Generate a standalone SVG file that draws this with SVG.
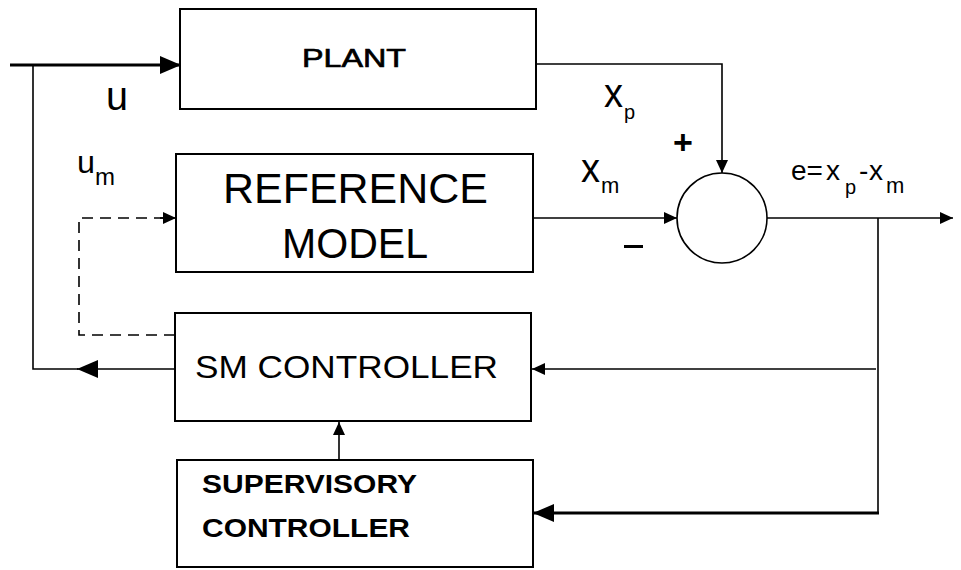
<svg xmlns="http://www.w3.org/2000/svg" width="961" height="570" viewBox="0 0 961 570">
<style>
.box{fill:#fff;stroke:#000;stroke-width:2}
.ln{fill:none;stroke:#000;stroke-width:1.6}
.thick{fill:none;stroke:#000;stroke-width:3}
.dash{fill:none;stroke:#000;stroke-width:1.6;stroke-dasharray:11 7}
text{font-family:"Liberation Sans",Arial,sans-serif;fill:#000}
.b{font-weight:bold}
.semi{stroke:#000;stroke-width:0.7}
</style>
<defs>
<marker id="a" markerUnits="userSpaceOnUse" markerWidth="14" markerHeight="12" refX="13" refY="6" orient="auto">
<path d="M0,0 L13,6 L0,12 Z" fill="#000"/>
</marker>
<marker id="A" markerUnits="userSpaceOnUse" markerWidth="22" markerHeight="18" refX="21" refY="9" orient="auto">
<path d="M0,0 L21,9 L0,18 Z" fill="#000"/>
</marker>
</defs>
<rect width="961" height="570" fill="#fff"/>
<g id="connectors">
<path class="thick" d="M10,65 L181,65" marker-end="url(#A)"/>
<path class="ln" d="M33,65 L33,369 L78,369"/>
<path class="ln" d="M175,369 L77,369" marker-end="url(#A)"/>
<path class="dash" d="M175,335 L79,335 L79,218 L164,218"/>
<path class="ln" d="M160,218 L176,218" marker-end="url(#a)"/>
<path class="ln" d="M536,64 L722,64 L722,173" marker-end="url(#a)"/>
<path class="ln" d="M533,218 L677,218" marker-end="url(#a)"/>
<path class="ln" d="M767,218 L953,218" marker-end="url(#a)"/>
<path class="ln" d="M878,218 L878,513"/>
<path class="ln" d="M876,369 L532,369" marker-end="url(#a)"/>
<path class="thick" d="M879,513 L533,513" marker-end="url(#A)"/>
<path class="ln" d="M339,460 L339,422" marker-end="url(#a)"/>
</g>
<g id="plant">
<rect class="box" x="180" y="9" width="356" height="100"/>
<text class="semi" x="302" y="67" font-size="26" textLength="104" lengthAdjust="spacingAndGlyphs">PLANT</text>
</g>
<g id="reference-model">
<rect class="box" x="176" y="154" width="357" height="118"/>
<text x="223" y="203" font-size="43" textLength="265" lengthAdjust="spacingAndGlyphs">REFERENCE</text>
<text x="282" y="258" font-size="43" textLength="146" lengthAdjust="spacingAndGlyphs">MODEL</text>
</g>
<g id="sm-controller">
<rect class="box" x="175" y="313" width="356" height="108"/>
<text x="195" y="378" font-size="32" textLength="303" lengthAdjust="spacingAndGlyphs">SM CONTROLLER</text>
</g>
<g id="supervisory-controller">
<rect class="box" x="177" y="460" width="356" height="107"/>
<text class="b" x="202" y="493" font-size="25" textLength="215" lengthAdjust="spacingAndGlyphs">SUPERVISORY</text>
<text class="b" x="202" y="537" font-size="25" textLength="208" lengthAdjust="spacingAndGlyphs">CONTROLLER</text>
</g>
<g id="summing-junction">
<circle cx="722" cy="218" r="45" fill="#fff" stroke="#000" stroke-width="1.6"/>
</g>
<g id="labels">
<text x="106" y="110" font-size="40" textLength="22" lengthAdjust="spacingAndGlyphs">u</text>
<text x="77" y="173" font-size="32" textLength="18" lengthAdjust="spacingAndGlyphs">u</text>
<text x="95" y="185" font-size="24">m</text>
<text x="604" y="107" font-size="40" textLength="19" lengthAdjust="spacingAndGlyphs">x</text>
<text x="624" y="119" font-size="20">p</text>
<text x="581" y="182" font-size="40" textLength="19" lengthAdjust="spacingAndGlyphs">x</text>
<text x="601" y="193" font-size="22">m</text>
<text class="b" x="683" y="154" font-size="34" text-anchor="middle">+</text>
<rect x="624" y="245" width="19" height="3" fill="#000"/>
<text x="791" y="180" font-size="28">e=</text>
<text x="826" y="180" font-size="28">x</text>
<text x="845" y="194" font-size="20">p</text>
<text x="859" y="180" font-size="28">-</text>
<text x="869" y="180" font-size="28">x</text>
<text x="886" y="193" font-size="22">m</text>
</g>
</svg>
